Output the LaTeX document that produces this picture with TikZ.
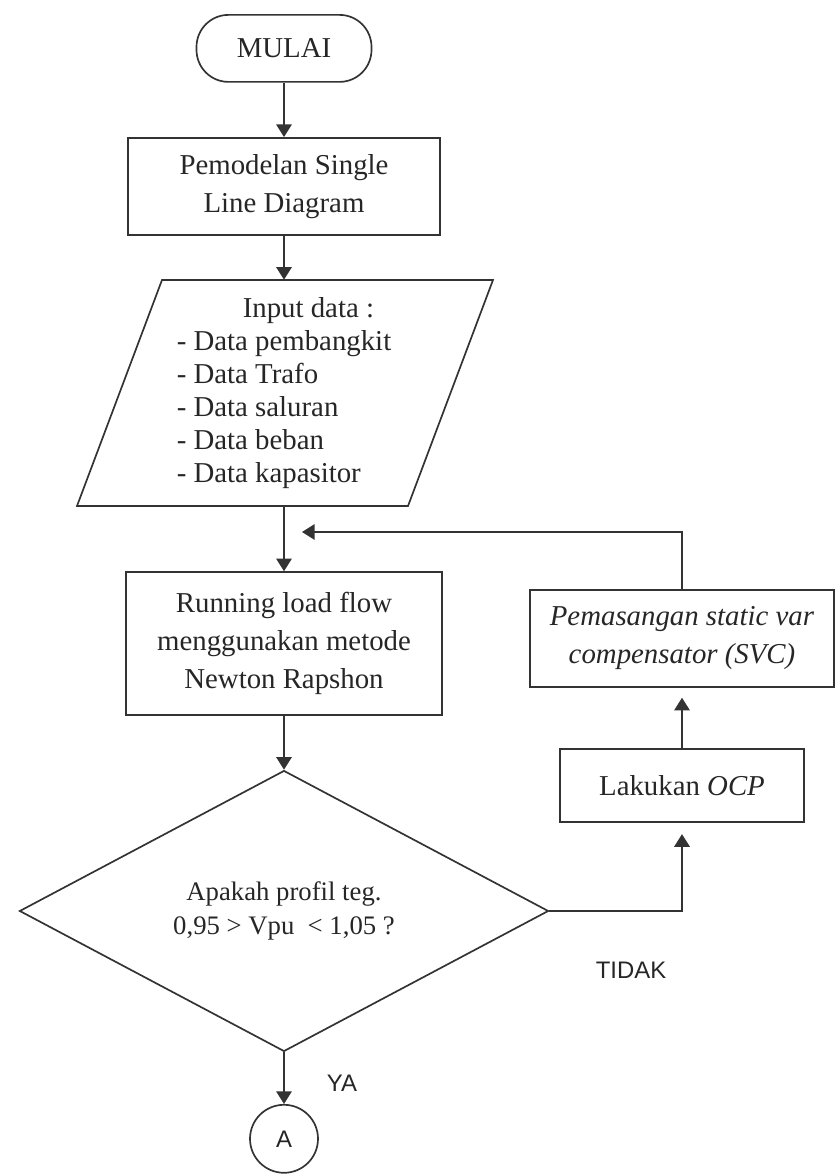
\documentclass[tikz,border=0pt]{standalone}
\usepackage{fontspec}
\setmainfont{Liberation Serif}
\newfontfamily\sansfont{Liberation Sans}
\usetikzlibrary{shapes.geometric, arrows.meta, positioning, calc}

\begin{document}
\begin{tikzpicture}[>={Triangle[length=9pt,width=11pt]},
    garis/.style={draw=black!80, line width=1.2pt},
    panah/.style={garis, ->},
    kotak/.style={rectangle, draw=black!80, line width=1.2pt, align=center, inner sep=0pt,
      text=black!85, font=\fontsize{20.5}{27}\selectfont},
    keterangan/.style={text=black!85, font=\sansfont\fontsize{17}{20}\selectfont}]
    \useasboundingbox (0, 0) rectangle (20.875, 29.35);

    % terminal dan proses awal
    \node[kotak, rounded corners=0.8cm, minimum width=4.375cm, minimum height=1.675cm] (mulai) at (7.1, 28.14) {MULAI};
    \node[kotak, minimum width=7.8cm, minimum height=2.425cm] (model) at (7.1, 24.69) {Pemodelan Single\\Line Diagram};

    % input data (jajaran genjang)
    \draw[garis] (1.925, 16.7) -- (4.05, 22.35) -- (12.325, 22.35) -- (10.2, 16.7) -- cycle;
    \node[align=left, inner sep=0pt, minimum height=5.65cm, text=black!85, font=\fontsize{20.5}{23.5}\selectfont] (input) at (7.1, 19.525) {
      \hspace*{1.65cm}Input data :\\
      - Data pembangkit\\
      - Data Trafo\\
      - Data saluran\\
      - Data beban\\
      - Data kapasitor
    };

    \node[kotak, minimum width=7.9cm, minimum height=3.575cm] (run) at (7.1, 13.26) {Running load flow\\menggunakan metode\\Newton Rapshon};

    % keputusan
    \node[diamond, draw=black!80, line width=1.2pt, inner sep=0pt, minimum width=13.225cm, minimum height=6.875cm,
      align=center, text=black!85, font=\fontsize{19}{24.8}\selectfont] (cek) at (7.1, 6.575) {Apakah profil teg.\\0,95 > Vpu \ < 1,05 ?};
    \node[circle, draw=black!80, line width=1.2pt, minimum size=1.7cm, inner sep=0pt, keterangan] (A) at (7.1, 0.88) {A};

    % cabang kanan
    \node[kotak, minimum width=7.6cm, minimum height=2.425cm] (svc) at (17.05, 13.39) {\textit{Pemasangan static var}\\\textit{compensator (SVC)}};
    \node[kotak, minimum width=6.1cm, minimum height=1.825cm] (ocp) at (17.05, 9.71) {Lakukan \textit{OCP}};
    \coordinate (balik) at (7.55, 16.05);

    \node[keterangan] (tidak) at (15.775, 5.1) {TIDAK};
    \node[keterangan] (ya) at (8.55, 2.275) {YA};

    % panah
    \draw[panah] (mulai.south) -- (model.north);
    \draw[panah] (model.south) -- (input.north);
    \draw[panah] (input.south) -- (run.north);
    \draw[panah] (run.south) -- (cek.north);
    \draw[panah] (cek.south) -- (A.north);
    \draw[panah, shorten >=0.28cm] (cek.east) -| (ocp.south);
    \draw[panah, shorten >=0.25cm] (ocp.north) -- (svc.south);
    \draw[panah] (svc.north) |- (balik);
  \end{tikzpicture}
\end{document}
